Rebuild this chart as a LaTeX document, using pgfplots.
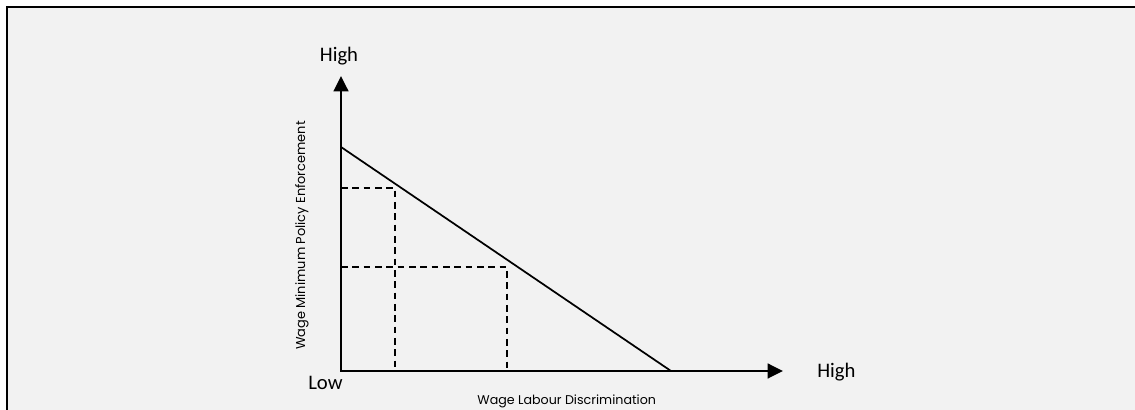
\documentclass[border=0pt]{standalone}
\usepackage{pgfplots}
\pgfplotsset{compat=1.18}
\usetikzlibrary{arrows.meta}
\usepackage{fontspec}
\setmainfont{Carlito}
\newfontfamily\gothic{Poppins}
\definecolor{bg}{HTML}{F2F2F2}
\begin{document}
\begin{tikzpicture}
\begin{axis}[
  scale only axis, width=851.25pt, height=307.5pt,
  xmin=0, xmax=1135, ymin=0, ymax=410,
  hide axis, clip=false,
]
\path[use as bounding box] (axis cs:0,0) rectangle (axis cs:1135,410);
% background panel and frame
\fill[bg] (axis cs:7,0) rectangle (axis cs:1135,403);
\addplot[black, line width=1.6pt] coordinates {(7,0) (7,403) (1135,403)};
% axes with arrows
\addplot[black, line width=1.8pt, -{Triangle[length=11.5pt,width=11pt]}] coordinates {(341,38) (341,334)};
\addplot[black, line width=1.8pt, -{Triangle[length=11.5pt,width=11pt]}] coordinates {(340,39) (783,39)};
% main line
\addplot[black, line width=1.3pt] coordinates {(341,263) (671,39)};
% dashed guides
\addplot[black, line width=1.4pt, dash pattern=on 5pt off 3.5pt] coordinates {(341,222) (395,222) (395,39)};
\addplot[black, line width=1.4pt, dash pattern=on 5pt off 3.5pt] coordinates {(341,143) (507,143) (507,39)};
% texts
\node[anchor=base, font=\fontsize{15.5}{18}\selectfont] at (axis cs:339,348.5) {High};
\node[anchor=base west, inner sep=0pt, font=\fontsize{15.5}{18}\selectfont] at (axis cs:817,32.3) {High};
\node[anchor=base west, inner sep=0pt, font=\fontsize{15.5}{18}\selectfont] at (axis cs:308,20) {Low};
\node[anchor=base, inner sep=0pt, font=\gothic\fontsize{9.5}{11}\selectfont] at (axis cs:566.7,5.7) {Wage Labour Discrimination};
\node[anchor=base, inner sep=0pt, rotate=90, font=\gothic\fontsize{9.7}{11}\selectfont] at (axis cs:305,174.5) {Wage Minimum Policy Enforcement};
\end{axis}
\end{tikzpicture}
\end{document}
